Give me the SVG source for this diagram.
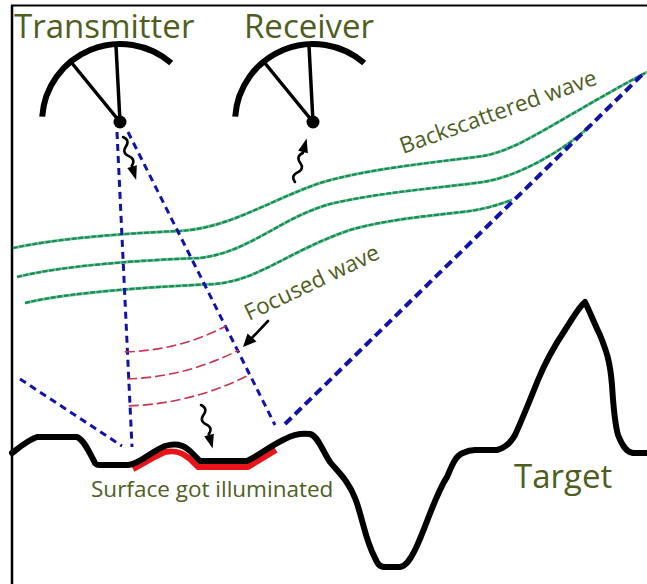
<svg xmlns="http://www.w3.org/2000/svg" width="647" height="584" viewBox="0 0 647 584">
  <defs>
    <style>
      .label { font-family: "Open Sans", "Noto Sans", "Liberation Sans", sans-serif; fill: #4f5e1f; }
      .title { font-size: 33px; }
      .small { font-size: 22.5px; }
      .dish { fill: none; stroke: #000; stroke-width: 6; }
      .spoke { fill: none; stroke: #000; stroke-width: 3.5; stroke-linecap: round; }
      .beam { fill: none; stroke: #1212a6; stroke-width: 3; stroke-dasharray: 7 5; }
      .beam-wide { fill: none; stroke: #1212a6; stroke-width: 4; stroke-dasharray: 9 5; }
      .wave-base { fill: none; stroke: #6cc99a; stroke-width: 3; }
      .wave-dash { fill: none; stroke: #1b8a55; stroke-width: 2.2; stroke-dasharray: 5 1.6; }
      .pulse { fill: none; stroke: #c8344f; stroke-width: 1.6; stroke-dasharray: 10 4; }
      .squiggle { fill: none; stroke: #000; stroke-width: 2.6; stroke-linecap: round; }
      .head { fill: #000; }
      .ground { fill: none; stroke: #000; stroke-width: 6; stroke-linejoin: round; stroke-linecap: round; }
      .lit { fill: none; stroke: #e8141a; stroke-width: 6; stroke-linejoin: round; }
    </style>
    <g id="squiggle-shape">
      <path class="squiggle" d="M0,0 q6,5 0,10 t0,10 t0,10 l0,4"/>
      <polygon class="head" points="-5,31 5,31 0,45"/>
    </g>
  </defs>

  <rect width="647" height="584" fill="#fff"/>

  <!-- frame -->
  <g id="frame" stroke="#000" fill="none">
    <line x1="12" y1="5" x2="12" y2="584" stroke-width="2.5"/>
    <line x1="11" y1="5.5" x2="647" y2="5.5" stroke-width="2"/>
  </g>

  <!-- connectors: beams, waves, signal arrows -->
  <g id="connectors">
    <!-- backscattered wave -->
    <g id="backscatter">
      <path class="wave-base" d="M13,248 C60,238 130,233 180,231 C230,228 270,200 320,183 C370,168 440,162 483,156 C520,150 560,118 647,72"/>
      <path class="wave-base" d="M17,277 C60,266 140,260 200,258 C250,252 280,218 330,204 C380,192 440,188 483,182 C520,176 565,150 592,124"/>
      <path class="wave-base" d="M25,303 C70,292 150,287 215,284 C260,280 290,250 350,230 C390,218 450,214 470,211 C490,208 500,204 512,200"/>
      <path class="wave-dash" d="M13,248 C60,238 130,233 180,231 C230,228 270,200 320,183 C370,168 440,162 483,156 C520,150 560,118 647,72"/>
      <path class="wave-dash" d="M17,277 C60,266 140,260 200,258 C250,252 280,218 330,204 C380,192 440,188 483,182 C520,176 565,150 592,124"/>
      <path class="wave-dash" d="M25,303 C70,292 150,287 215,284 C260,280 290,250 350,230 C390,218 450,214 470,211 C490,208 500,204 512,200"/>
    </g>
    <!-- beam edges -->
    <line class="beam" x1="117" y1="132" x2="132" y2="447"/>
    <line class="beam" x1="128" y1="132" x2="275" y2="425"/>
    <line class="beam" x1="20" y1="379" x2="122" y2="446"/>
    <line class="beam-wide" x1="285" y1="424" x2="645" y2="72"/>
    <!-- focused wave fronts -->
    <g id="focused">
      <path class="pulse" d="M124.8,351.9 A230 230 0 0 0 225.8,326.2"/>
      <path class="pulse" d="M127.2,378.9 A257 257 0 0 0 238.7,350"/>
      <path class="pulse" d="M128.9,405.9 A284 284 0 0 0 249.8,374.5"/>
    </g>
    <!-- signal arrows -->
    <use href="#squiggle-shape" transform="translate(123,137) rotate(-17)"/>
    <use href="#squiggle-shape" transform="translate(295,182) rotate(195)"/>
    <use href="#squiggle-shape" transform="translate(201,405) rotate(-15)"/>
    <!-- pointer to focused wave -->
    <line x1="268" y1="321" x2="250" y2="340" stroke="#000" stroke-width="2.6" stroke-linecap="round"/>
    <polygon class="head" points="243,347 247.5,333.5 256.5,341.5"/>
  </g>

  <!-- transmitter antenna -->
  <g id="transmitter">
    <path class="dish" d="M42.2,116.6 A78 78 0 0 1 171.2,63.1"/>
    <line class="spoke" x1="120" y1="122" x2="116" y2="46"/>
    <line class="spoke" x1="120" y1="122" x2="71" y2="62"/>
    <circle cx="120" cy="122" r="6.5" fill="#000"/>
    <text class="label title" x="14" y="38">Transmitter</text>
  </g>

  <!-- receiver antenna -->
  <g id="receiver">
    <path class="dish" d="M235.2,116.6 A78 78 0 0 1 364.2,63.1"/>
    <line class="spoke" x1="313" y1="122" x2="309" y2="46"/>
    <line class="spoke" x1="313" y1="122" x2="264" y2="62"/>
    <circle cx="313" cy="122" r="6.5" fill="#000"/>
    <text class="label title" x="244" y="38">Receiver</text>
  </g>

  <!-- terrain -->
  <g id="terrain">
    <path class="lit" d="M133,469 C145,463 155,456 165,452 C175,450 182,452 190,459 L198,467 L248,467 L276,450"/>
    <path class="ground" d="M12,453 C20,447 28,440 37,437 L77,437 C84,440 88,450 94,461 C95,464 96,465 100,465 L128,465 C140,464 150,452 165,446 C175,443 182,444 190,451 L200,461 L247,461 C258,456 270,446 285,439 C292,435 300,433 310,434 C318,436 322,450 330,462 C338,472 348,480 355,498 C362,515 365,540 375,558 C378,565 380,567 386,567 L400,567 C406,566 410,560 415,550 C425,530 435,495 447,477 C452,465 456,455 463,453 C467,451 470,450 475,450 L497,450 C505,448 510,444 515,435 C522,420 530,400 538,380 C545,363 555,345 565,330 C573,318 578,308 585,302 C590,312 595,325 600,335 C606,350 610,360 612,385 C613,400 614,420 618,435 C622,445 626,452 633,453 L647,453"/>
  </g>

  <!-- labels -->
  <g id="label-backscatter">
    <text class="label small" transform="translate(403,154) rotate(-19.7)">Backscattered wave</text>
  </g>
  <g id="label-focused">
    <text class="label small" transform="translate(249,321) rotate(-25.5)">Focused wave</text>
  </g>
  <g id="label-surface">
    <text class="label small" x="91" y="497">Surface got illuminated</text>
  </g>
  <g id="label-target">
    <text class="label title" x="514" y="488">Target</text>
  </g>
</svg>
